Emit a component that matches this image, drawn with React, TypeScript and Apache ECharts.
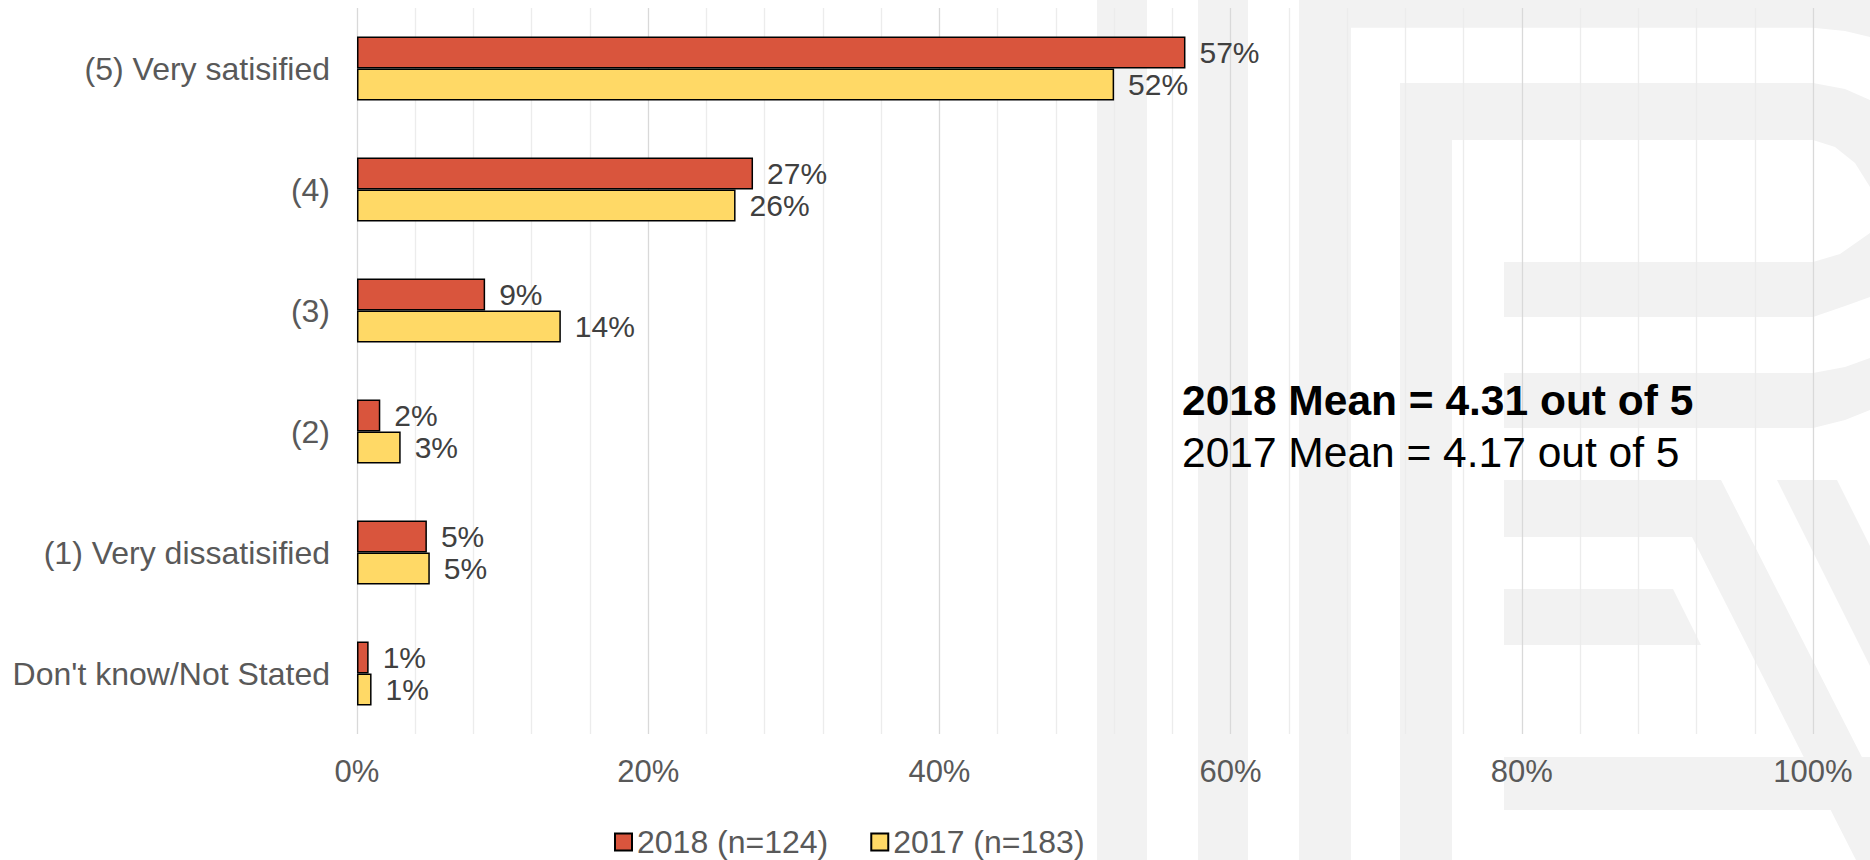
import React, { useEffect, useRef } from "react";
import * as echarts from "echarts";

const categories = [
  "(5) Very satisified",
  "(4)",
  "(3)",
  "(2)",
  "(1) Very dissatisified",
  "Don't know/Not Stated",
];
const values2018 = [56.9, 27.2, 8.8, 1.6, 4.8, 0.8];
const values2017 = [52.0, 26.0, 14.0, 3.0, 5.0, 1.0];
const seriesNames = ["2018 (n=124)", "2017 (n=183)"];
const xTicks = [0, 20, 40, 60, 80, 100];
const meanLines = ["2018 Mean = 4.31 out of 5", "2017 Mean = 4.17 out of 5"];

const FONT = "'Liberation Sans', Arial, Helvetica, sans-serif";
const WM = "#f2f2f2";

const wmRects: number[][] = [
  [1097, 0, 50, 860],
  [1198, 0, 50, 860],
  [1299, 0, 52, 860],
  [1400, 83, 52, 777],
];
const wmPolys: number[][][] = [
  [[1299, 0], [1870, 0], [1870, 37], [1845, 31], [1813, 27.7], [1299, 27.7]],
  [[1400, 83], [1813, 83], [1845, 89], [1870, 100], [1870, 187], [1855, 163], [1835, 147], [1813, 140], [1400, 140]],
  [[1504, 262], [1813, 262], [1840, 254], [1870, 233], [1870, 297], [1845, 306], [1813, 317], [1504, 317]],
  [[1504, 373], [1813, 373], [1845, 367], [1870, 358], [1870, 410], [1845, 420], [1813, 428], [1504, 428]],
  [[1504, 480], [1721, 480], [1870, 773], [1870, 860], [1856, 860], [1692, 537], [1504, 537]],
  [[1777, 480], [1837, 480], [1870, 546], [1870, 666]],
  [[1504, 589], [1673, 589], [1701, 645], [1504, 645]],
  [[1504, 757], [1870, 757], [1870, 800], [1830, 810], [1504, 810]],
];

export default function App() {
  const ref = useRef<HTMLDivElement>(null);

  useEffect(() => {
    if (!ref.current) return;
    const chart = echarts.init(ref.current, undefined, { renderer: "svg" });

    const watermark: any[] = [
      ...wmRects.map((r) => ({
        type: "rect",
        z: -10,
        silent: true,
        shape: { x: r[0], y: r[1], width: r[2], height: r[3] },
        style: { fill: WM },
      })),
      ...wmPolys.map((p) => ({
        type: "polygon",
        z: -10,
        silent: true,
        shape: { points: p },
        style: { fill: WM },
      })),
    ];

    const labelStyle = {
      show: true,
      position: "right",
      distance: 14,
      color: "#404040",
      fontSize: 30,
      fontFamily: FONT,
      formatter: (p: any) => Math.round(p.value) + "%",
    };

    chart.setOption({
      animation: false,
      backgroundColor: "#ffffff",
      grid: { left: 357, right: 57, top: 8, bottom: 126, containLabel: false },
      legend: {
        data: seriesNames,
        left: 609,
        top: 821,
        padding: [5, 5, 3, 5],
        icon: "rect",
        itemWidth: 17,
        itemHeight: 17,
        itemGap: 42,
        textStyle: { color: "#595959", fontSize: 32, fontFamily: FONT },
      },
      xAxis: {
        type: "value",
        min: xTicks[0],
        max: xTicks[xTicks.length - 1],
        interval: xTicks[1] - xTicks[0],
        axisLine: { show: false },
        axisTick: { show: false },
        axisLabel: {
          formatter: (v: number) => v + "%",
          color: "#595959",
          fontSize: 31,
          fontFamily: FONT,
          margin: 22,
        },
        splitLine: { show: true, lineStyle: { color: "#d9d9d9", width: 1.3 } },
        minorTick: { show: false, splitNumber: 5 },
        minorSplitLine: { show: true, lineStyle: { color: "#ececec", width: 1.3 } },
      },
      yAxis: {
        type: "category",
        data: categories,
        inverse: true,
        axisLine: { show: false },
        axisTick: { show: false },
        splitLine: { show: false },
        axisLabel: { color: "#595959", fontSize: 32, fontFamily: FONT, margin: 27 },
      },
      series: [
        {
          name: seriesNames[0],
          type: "bar",
          data: values2018,
          barWidth: 32,
          barGap: "0%",
          itemStyle: { color: "#D9553D", borderColor: "#000000", borderWidth: 1.5 },
          label: labelStyle,
        },
        {
          name: seriesNames[1],
          type: "bar",
          data: values2017,
          barWidth: 32,
          barGap: "0%",
          itemStyle: { color: "#FFD966", borderColor: "#000000", borderWidth: 1.5 },
          label: labelStyle,
        },
      ],
      graphic: {
        elements: [
          ...watermark,
          {
            type: "text",
            z: 10,
            x: 1182,
            y: 400,
            style: {
              text: meanLines[0],
              fontSize: 42.5,
              fontWeight: "bold",
              fontFamily: FONT,
              fill: "#000000",
              verticalAlign: "middle",
              align: "left",
            },
          },
          {
            type: "text",
            z: 10,
            x: 1182,
            y: 452,
            style: {
              text: meanLines[1],
              fontSize: 42.5,
              fontFamily: FONT,
              fill: "#000000",
              verticalAlign: "middle",
              align: "left",
            },
          },
        ],
      },
    });

    return () => {
      chart.dispose();
    };
  }, []);

  return (
    <div
      ref={ref}
      style={{ position: "absolute", left: 0, top: 0, width: 1870, height: 860 }}
    />
  );
}
